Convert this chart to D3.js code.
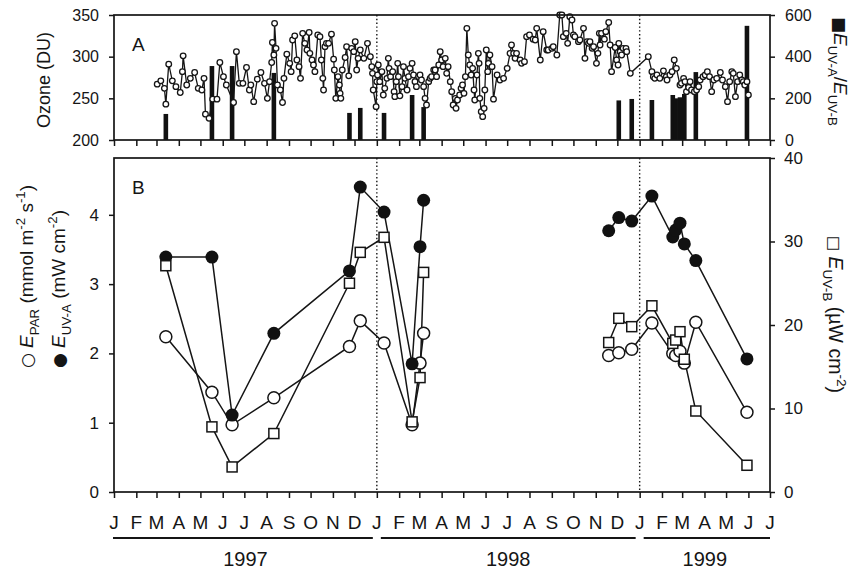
<!DOCTYPE html>
<html>
<head>
<meta charset="utf-8">
<script src="https://cdn.jsdelivr.net/npm/d3@7"></script>
<style>
  body { margin: 0; background: #fff; }
  svg { display: block; }
  text { font-family: "Liberation Sans", Arial, Helvetica, sans-serif; fill: #151515; }
</style>
</head>
<body>
<svg id="chart" width="851" height="569"></svg>
<script>
// ---- Total ozone column (DU); sampling day counted from 1 Jan 1997 ----
const ozoneDay = [
  60,65,70,72,76,81,86,92,95,96,101,106,112,117,122,125,127,132,137,143,
  147,152,156,166,170,174,179,184,188,190,194,199,204,209,213,216,219,220,222,223,
  225,227,231,234,236,240,244,246,248,251,254,257,259,262,265,268,271,272,275,277,
  279,283,286,288,290,291,293,295,298,302,305,306,308,311,313,314,315,317,321,323,
  326,330,333,335,337,339,342,347,352,356,358,359,360,364,365,
  366,367,369,372,374,376,379,381,382,384,387,389,390,392,394,395,397,400,402,404,
  407,409,411,414,416,418,420,423,425,427,430,432,434,437,439,441,444,446,448,451,
  453,455,457,460,462,464,467,469,471,474,475,477,480,482,484,486,488,490,492,494,
  496,498,500,501,504,506,507,508,510,512,514,515,517,519,520,522,525,527,532,536,
  541,546,550,552,555,557,559,564,566,570,573,577,582,585,587,592,596,601,603,608,
  610,615,619,622,624,628,630,633,636,638,640,645,647,652,654,657,659,661,664,666,
  670,672,674,
  675,677,681,683,687,689,691,696,698,700,701,703,705,707,711,712,717,742,747,749,
  751,754,758,763,767,768,772,775,778,781,786,788,791,793,795,798,800,802,806,809,
  812,814,818,821,824,827,830,833,837,842,845,849,852,855,858,860,863,866,869,872,
  874,876,879,881
];
const ozoneDU = [
  267,271,262,243,291,271,264,257,282,301,266,274,281,262,260,274,231,226,249,249,
  293,276,266,245,306,268,268,287,260,266,246,273,281,268,250,270,293,317,302,340,
  310,266,260,245,274,303,292,282,320,325,296,288,274,328,316,308,329,304,296,290,
  282,326,324,296,274,260,312,316,316,327,297,284,250,276,266,256,250,284,299,312,
  277,310,306,318,284,298,308,298,316,300,288,280,260,240,270,
  278,290,270,282,254,262,274,298,286,276,282,258,252,270,292,276,253,264,288,274,
  260,276,286,292,278,270,264,276,278,272,264,250,242,270,274,276,284,284,276,290,
  306,296,288,298,280,288,270,258,242,250,238,248,254,262,266,256,276,334,302,290,
  278,286,260,248,278,304,292,250,234,228,238,260,308,282,292,302,288,249,278,272,
  274,286,304,314,304,298,304,296,292,294,324,326,321,320,334,296,330,308,308,310,
  312,302,350,350,324,328,316,348,344,326,324,318,320,334,298,318,316,318,310,312,
  292,304,328,
  314,328,321,330,341,314,282,311,296,290,316,306,302,310,310,306,280,300,282,276,
  274,278,274,283,276,272,278,282,296,286,266,268,274,270,258,263,270,260,258,260,
  264,272,276,278,282,276,258,272,274,281,272,264,246,270,282,280,252,270,278,272,
  270,266,270,254
];

// ---- E(UV-A)/E(UV-B) ratio on irradiance sampling days ----
const ratioDates = [
  "1997-03-14","1997-05-17","1997-06-14","1997-08-11","1997-11-24","1997-12-09",
  "1998-01-11","1998-02-19","1998-03-07",
  "1998-12-03","1998-12-21","1999-01-18","1999-02-16","1999-02-20","1999-02-26",
  "1999-03-04","1999-03-20","1999-05-30"
];
const ratioValues = [125,355,355,322,130,154,130,216,158,190,197,192,216,200,205,221,326,548];

// ---- Underwater irradiance on sampling days ----
const sampleDates = [
  "1997-03-14","1997-05-17","1997-06-14","1997-08-11","1997-11-24","1997-12-09",
  "1998-01-11","1998-02-19","1998-03-02","1998-03-07",
  "1998-11-19","1998-12-03","1998-12-21","1999-01-18","1999-02-16","1999-02-20",
  "1999-02-26","1999-03-04","1999-03-20","1999-05-30"
];
const parValues = [2.24,1.44,0.97,1.36,2.10,2.47,2.15,0.97,1.86,2.29,
                   1.97,2.01,2.06,2.44,2.00,1.97,2.03,1.86,2.45,1.15];   // mmol m-2 s-1
const uvaValues = [3.39,3.39,1.11,2.29,3.19,4.40,4.04,1.85,3.54,4.21,
                   3.77,3.96,3.91,4.27,3.68,3.78,3.88,3.58,3.34,1.92];   // mW cm-2
const uvbValues = [27.1,7.8,3.0,7.0,25.0,28.7,30.5,8.4,13.7,26.3,
                   17.9,20.8,19.8,22.3,17.8,18.2,19.2,15.9,9.7,3.2];     // µW cm-2

// ---- Axis labels ----
const monthLabels = ["J","F","M","A","M","J","J","A","S","O","N","D"];
const yearLabels = ["1997","1998","1999"];
const ozoneTicks = [200,250,300,350];
const ratioTicks = [0,200,400,600];
const irrTicks = [0,1,2,3,4];
const uvbTicks = [0,10,20,30,40];

// ---------------------------------------------------------------
const svg = d3.select("#chart");
const ink = "#151515";
const DAY = 864e5;
const origin = Date.UTC(1997, 0, 1);
const parse = d3.utcParse("%Y-%m-%d");

const x = d3.scaleUtc()
  .domain([new Date(origin), new Date(Date.UTC(1999, 6, 1))])
  .range([114, 770]);

const A = { top: 15, bottom: 140 };
const B = { top: 158, bottom: 492 };

const yOz = d3.scaleLinear().domain([200, 350]).range([A.bottom, A.top]);
const yRatio = d3.scaleLinear().domain([0, 600]).range([A.bottom, A.top]);
const yIrr = d3.scaleLinear().domain([0, 4.82]).range([B.bottom, B.top]);
const yUvb = d3.scaleLinear().domain([0, 40]).range([B.bottom, B.top]);

const ozone = ozoneDay.map((d, i) => ({ date: new Date(origin + d * DAY), v: ozoneDU[i] }));
const ratio = ratioDates.map((d, i) => ({ date: parse(d), v: ratioValues[i] }));
const samples = sampleDates.map((d, i) => ({
  date: parse(d), par: parValues[i], uva: uvaValues[i], uvb: uvbValues[i]
}));
// split the sampling record into field campaigns (breaks longer than ~5 months)
const campaigns = [];
samples.forEach((s, i) => {
  if (i === 0 || (s.date - samples[i - 1].date) / DAY > 150) campaigns.push([]);
  campaigns[campaigns.length - 1].push(s);
});

const monthTicks = x.ticks(d3.utcMonth.every(1));
const yearStarts = [parse("1998-01-01"), parse("1999-01-01")];
const intFmt = d3.format("d");

function styleAxis(g, size) {
  g.select(".domain").remove();
  g.selectAll(".tick line").attr("stroke", ink).attr("stroke-width", 1.5);
  g.selectAll(".tick text").attr("font-size", size)
    .attr("font-family", '"Liberation Sans", Arial, sans-serif').attr("fill", ink);
}

// rich text with italics, subscripts, superscripts and legend symbols
function richText(parent, parts, size) {
  const t = parent.append("text").attr("font-size", size);
  let shift = 0;
  parts.forEach(p => {
    const target = p.sub ? size * 0.32 : p.sup ? -size * 0.42 : 0;
    const ts = t.append("tspan").text(p.t).attr("dy", target - shift);
    if (p.sub || p.sup) ts.attr("font-size", size * 0.7);
    if (p.it) ts.attr("font-style", "italic");
    if (p.sym) ts.attr("font-family", '"DejaVu Sans", sans-serif').attr("font-size", p.sym);
    shift = target;
  });
  return t;
}

// ================= Panel A =================
const gA = svg.append("g");

gA.append("g").attr("transform", `translate(0,${A.bottom})`)
  .call(d3.axisBottom(x).tickValues(monthTicks).tickSize(6).tickFormat(""))
  .call(g => styleAxis(g, 16));

gA.append("g").attr("transform", `translate(${x.range()[0]},0)`)
  .call(d3.axisLeft(yOz).tickValues(ozoneTicks).tickSize(5).tickPadding(10).tickFormat(intFmt))
  .call(g => styleAxis(g, 16));

gA.append("g").attr("transform", `translate(${x.range()[1]},0)`)
  .call(d3.axisRight(yRatio).tickValues(ratioTicks).tickSize(5).tickPadding(10).tickFormat(intFmt))
  .call(g => styleAxis(g, 16));

// ratio bars
gA.append("g").selectAll("rect").data(ratio).join("rect")
  .attr("x", d => x(d.date) - 2.3).attr("width", 4.6)
  .attr("y", d => yRatio(d.v)).attr("height", d => yRatio(0) - yRatio(d.v))
  .attr("fill", "#111");

// year boundaries
gA.append("g").selectAll("line").data(yearStarts).join("line")
  .attr("x1", d => x(d)).attr("x2", d => x(d))
  .attr("y1", A.top).attr("y2", A.bottom)
  .attr("stroke", ink).attr("stroke-width", 1.4).attr("stroke-dasharray", "1.4,2.4");

// ozone line + markers
gA.append("path").datum(ozone)
  .attr("d", d3.line().x(d => x(d.date)).y(d => yOz(d.v)))
  .attr("fill", "none").attr("stroke", ink).attr("stroke-width", 1.3);
gA.append("g").selectAll("circle").data(ozone).join("circle")
  .attr("cx", d => x(d.date)).attr("cy", d => yOz(d.v)).attr("r", 2.8)
  .attr("fill", "#fff").attr("stroke", ink).attr("stroke-width", 1.3);

// frame
gA.append("rect").attr("x", x.range()[0]).attr("y", A.top)
  .attr("width", x.range()[1] - x.range()[0]).attr("height", A.bottom - A.top)
  .attr("fill", "none").attr("stroke", ink).attr("stroke-width", 1.7);

gA.append("text").attr("x", 132).attr("y", 51).attr("font-size", 19).text("A");

gA.append("text").attr("transform", "translate(50,80) rotate(-90)")
  .attr("text-anchor", "middle").attr("font-size", 18).text("Ozone (DU)");

richText(gA.append("g").attr("transform", "translate(834,17) rotate(90)"), [
  { t: "\u25A0", sym: 17 }, { t: "E", it: true }, { t: "UV-A", sub: true },
  { t: "/" }, { t: "E", it: true }, { t: "UV-B", sub: true }
], 19);

// ================= Panel B =================
const gB = svg.append("g");

gB.append("g").attr("transform", `translate(0,${B.bottom})`)
  .call(d3.axisBottom(x).tickValues(monthTicks).tickSize(6).tickFormat(""))
  .call(g => styleAxis(g, 16));

gB.append("g").selectAll("text").data(monthTicks).join("text")
  .attr("x", d => x(d)).attr("y", 529).attr("text-anchor", "middle")
  .attr("font-size", 19).text(d => monthLabels[d.getUTCMonth()]);

gB.append("g").attr("transform", `translate(${x.range()[0]},0)`)
  .call(d3.axisLeft(yIrr).tickValues(irrTicks).tickSize(5).tickPadding(10).tickFormat(intFmt))
  .call(g => styleAxis(g, 17));

gB.append("g").attr("transform", `translate(${x.range()[1]},0)`)
  .call(d3.axisRight(yUvb).tickValues(uvbTicks).tickSize(5).tickPadding(9).tickFormat(intFmt))
  .call(g => styleAxis(g, 17));

gB.append("g").selectAll("line").data(yearStarts).join("line")
  .attr("x1", d => x(d)).attr("x2", d => x(d))
  .attr("y1", B.top).attr("y2", B.bottom)
  .attr("stroke", ink).attr("stroke-width", 1.4).attr("stroke-dasharray", "1.4,2.4");

const series = [
  { key: "par", y: yIrr },
  { key: "uva", y: yIrr },
  { key: "uvb", y: yUvb }
];
series.forEach(s => {
  gB.append("g").selectAll("path").data(campaigns).join("path")
    .attr("d", d3.line().x(d => x(d.date)).y(d => s.y(d[s.key])))
    .attr("fill", "none").attr("stroke", ink).attr("stroke-width", 1.5);
});

gB.append("g").selectAll("circle").data(samples).join("circle")
  .attr("cx", d => x(d.date)).attr("cy", d => yIrr(d.par)).attr("r", 6)
  .attr("fill", "#fff").attr("stroke", ink).attr("stroke-width", 1.5);
gB.append("g").selectAll("circle").data(samples).join("circle")
  .attr("cx", d => x(d.date)).attr("cy", d => yIrr(d.uva)).attr("r", 6.5)
  .attr("fill", "#111");
gB.append("g").selectAll("rect").data(samples).join("rect")
  .attr("x", d => x(d.date) - 5).attr("y", d => yUvb(d.uvb) - 5)
  .attr("width", 10).attr("height", 10)
  .attr("fill", "#fff").attr("stroke", ink).attr("stroke-width", 1.5);

gB.append("rect").attr("x", x.range()[0]).attr("y", B.top)
  .attr("width", x.range()[1] - x.range()[0]).attr("height", B.bottom - B.top)
  .attr("fill", "none").attr("stroke", ink).attr("stroke-width", 1.7);

gB.append("text").attr("x", 132).attr("y", 194).attr("font-size", 19).text("B");

richText(gB.append("g").attr("transform", "translate(33,368) rotate(-90)"), [
  { t: "\u25CB", sym: 17 }, { t: " " }, { t: "E", it: true }, { t: "PAR", sub: true },
  { t: " (mmol m" }, { t: "-2", sup: true }, { t: " s" }, { t: "-1", sup: true }, { t: ")" }
], 19);
richText(gB.append("g").attr("transform", "translate(65,368) rotate(-90)"), [
  { t: "\u25CF", sym: 17 }, { t: " " }, { t: "E", it: true }, { t: "UV-A", sub: true },
  { t: " (mW cm" }, { t: "-2", sup: true }, { t: ")" }
], 19);
richText(gB.append("g").attr("transform", "translate(829,236) rotate(90)"), [
  { t: "\u25A1", sym: 16 }, { t: " " }, { t: "E", it: true }, { t: "UV-B", sub: true },
  { t: " (\u00B5W cm" }, { t: "-2", sup: true }, { t: ")" }
], 19.5);

// year spans under the month letters
const years = yearLabels.map(y => ({
  label: y,
  start: parse(`${y}-01-01`),
  end: d3.min([parse(`${+y + 1}-01-01`), x.domain()[1]])
}));
const gY = svg.append("g");
gY.selectAll("line").data(years).join("line")
  .attr("x1", (d, i) => i === 0 ? x(d.start) - 1 : x(d.start) + 4)
  .attr("x2", (d, i) => i === years.length - 1 ? x(d.end) : x(d.end) - 4)
  .attr("y1", 538).attr("y2", 538)
  .attr("stroke", ink).attr("stroke-width", 1.8);
gY.selectAll("text").data(years).join("text")
  .attr("x", d => (x(d.start) + x(d.end)) / 2).attr("y", 566)
  .attr("text-anchor", "middle").attr("font-size", 20).text(d => d.label);
</script>
</body>
</html>
